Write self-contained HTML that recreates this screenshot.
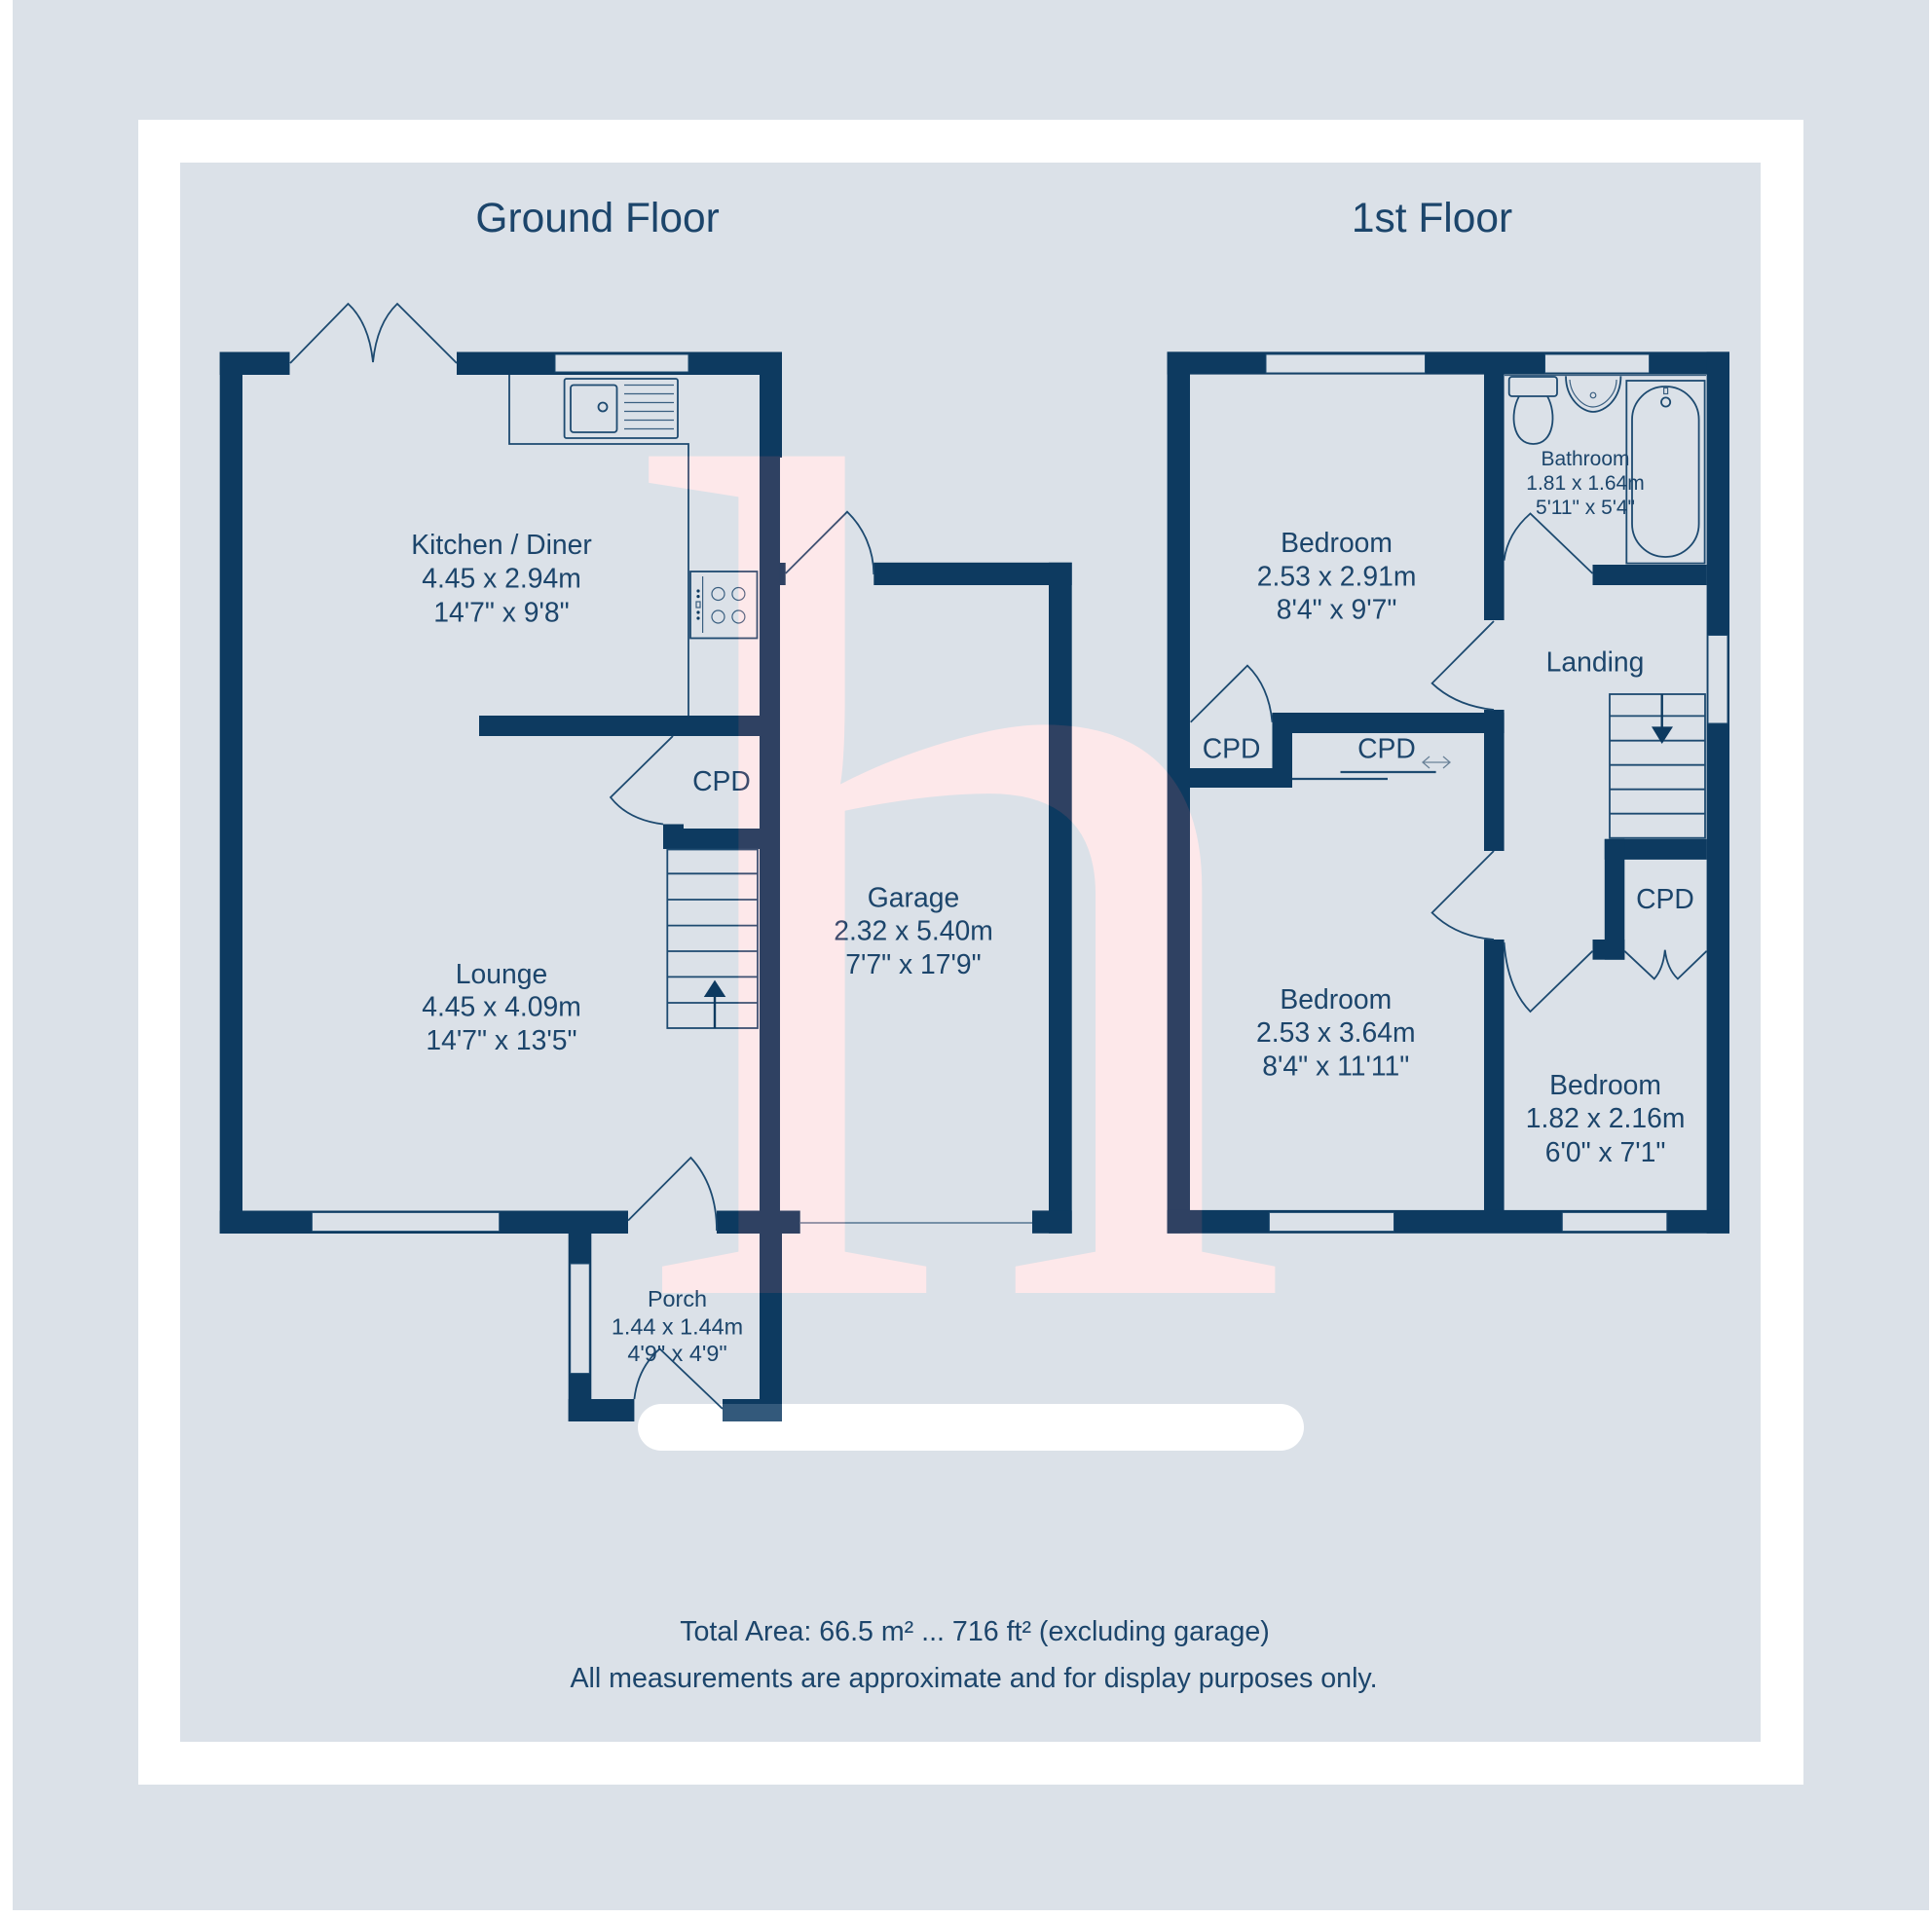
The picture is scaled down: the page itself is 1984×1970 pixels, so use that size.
<!DOCTYPE html>
<html><head><meta charset="utf-8">
<style>
html,body{margin:0;padding:0;background:#fff;width:1984px;height:1970px;overflow:hidden}
svg{display:block}
text{font-family:"Liberation Sans",sans-serif;fill:#1c456b;text-anchor:middle}
.l{fill:none;stroke:#1d4a70;stroke-width:1.8}
.t{fill:none;stroke:#3a5f80;stroke-width:1.2}
.w{fill:#0d3a60}
.g{fill:#dbe1e8;stroke:#1d4a70;stroke-width:1}
</style></head><body>
<svg width="1984" height="1970" viewBox="0 0 1984 1970" xmlns="http://www.w3.org/2000/svg">
<rect x="13" y="0" width="1968" height="1962" fill="#dbe1e8"/>
<rect x="142" y="123" width="1710" height="1710" fill="#fff"/>
<rect x="185" y="167" width="1623" height="1622" fill="#dbe1e8"/>

<!-- pill -->
<rect x="655" y="1442" width="684" height="48" rx="24" fill="#fff"/>

<!-- GROUND FLOOR walls -->
<rect class="w" x="225.7" y="361.5" width="23.3" height="905.5"/>
<rect class="w" x="225.7" y="361.5" width="71.8" height="23.5"/>
<rect class="w" x="469" y="361.5" width="334" height="23.5"/>
<rect class="g" x="570" y="364" width="137" height="18"/>
<rect class="w" x="780" y="361.5" width="23" height="108.5"/>
<rect class="w" x="780" y="470" width="21" height="775"/>
<rect class="w" x="780" y="1245" width="23" height="197"/>
<rect class="w" x="492" y="735" width="288" height="21"/>
<rect class="w" x="681" y="851" width="99" height="21"/>
<rect class="w" x="681" y="846.5" width="21" height="25"/>
<rect class="w" x="225.7" y="1243.5" width="419.3" height="23.5"/>
<rect class="g" x="320.4" y="1245.4" width="192.3" height="19.2"/>
<rect class="w" x="736" y="1243.5" width="85.7" height="23.5"/>
<rect class="w" x="583.7" y="1267" width="23.6" height="193"/>
<rect class="g" x="585.7" y="1298" width="19.6" height="112.6"/>
<rect class="w" x="583.7" y="1437" width="67.7" height="23"/>
<rect class="w" x="742" y="1437" width="61" height="5"/>
<rect x="742" y="1442" width="61" height="18" fill="#33597b"/>
<rect x="780" y="1437" width="23" height="5" class="w"/>

<!-- Garage walls -->
<rect class="w" x="800.7" y="578" width="6" height="23"/>
<rect class="w" x="897.3" y="577.8" width="203.4" height="23.2"/>
<rect class="w" x="1077" y="577.8" width="23.7" height="689"/>
<rect class="w" x="1060" y="1243.4" width="40.7" height="23.4"/>
<path class="t" d="M822 1256H1060"/>
<path class="l" d="M806.7 589L870 525.7A90 90 0 0 1 897.3 590"/>

<!-- French doors -->
<path class="l" d="M298 373L357.5 312Q379 332 383 372Q387 332 408 312L469 373"/>
<!-- Kitchen -->
<path class="l" d="M523 385V456H707V735"/>
<rect class="l" x="579.6" y="389" width="116.4" height="61" rx="2"/>
<rect class="l" x="586" y="395.5" width="47.5" height="48.5" rx="3"/>
<circle class="l" cx="619" cy="418" r="4.5"/>
<path class="t" d="M641 395.5H692M641 404.5H692M641 413.5H692M641 422.5H692M641 431.5H692M641 440.5H692"/>
<rect class="l" x="709" y="587" width="68.5" height="68.5"/>
<path class="t" d="M721.6 592V650"/>
<circle class="t" cx="737.5" cy="610" r="6.5"/><circle class="t" cx="758.4" cy="610" r="6.5"/>
<circle class="t" cx="737.5" cy="633.5" r="6.5"/><circle class="t" cx="758.4" cy="633.5" r="6.5"/>
<g fill="#0d3a60"><circle cx="717" cy="607" r="1.6"/><circle cx="717" cy="612.6" r="1.6"/><circle cx="717" cy="629" r="1.6"/><circle cx="717" cy="635" r="1.6"/></g>
<rect class="t" x="715" y="618" width="4" height="6"/>
<!-- CPD door -->
<path class="l" d="M691 756L627 819Q645 842 681 846.5"/>
<!-- stairs -->
<rect class="l" x="685.3" y="872.5" width="92.7" height="183.5"/>
<path class="l" d="M685.3 897.3H778M685.3 924H778M685.3 950.6H778M685.3 977H778M685.3 1003.4H778M685.3 1030H778"/>
<path d="M734 1056V1024" stroke="#0d3a60" stroke-width="2.4" fill="none"/>
<path class="w" d="M734 1006.6L745.3 1024H722.8Z"/>
<!-- lounge door -->
<path class="l" d="M645 1253.6L709.4 1189Q736 1218 736 1264"/>
<!-- porch door -->
<path class="l" d="M651.4 1437Q655 1405 677.5 1385.4L742 1447"/>

<!-- FIRST FLOOR walls -->
<rect class="w" x="1198.6" y="361.4" width="577.4" height="23.2"/>
<rect class="g" x="1300" y="364" width="163.5" height="19"/>
<rect class="g" x="1586.5" y="364" width="107.1" height="19"/>
<rect class="w" x="1198.6" y="361.4" width="23.4" height="905.4"/>
<rect class="w" x="1752.6" y="361.4" width="23.4" height="905.4"/>
<rect class="g" x="1754" y="652.5" width="20" height="90.5"/>
<rect class="w" x="1524" y="384" width="20.6" height="253"/>
<rect class="w" x="1524" y="729" width="20.6" height="145"/>
<rect class="w" x="1306.5" y="732" width="238.1" height="21"/>
<rect class="w" x="1306.5" y="732" width="20.5" height="77"/>
<rect class="w" x="1222" y="789" width="105" height="20"/>
<rect class="w" x="1635.5" y="580" width="117.1" height="21"/>
<rect class="w" x="1647.8" y="861.8" width="104.8" height="21.1"/>
<rect class="w" x="1647.8" y="861.8" width="20.5" height="123.9"/>
<rect class="w" x="1635.5" y="965" width="32.8" height="20.7"/>
<rect class="w" x="1524" y="965" width="20.6" height="300"/>
<rect class="w" x="1198.6" y="1242.9" width="577.4" height="23.9"/>
<rect class="g" x="1303.4" y="1245.4" width="128.1" height="19.2"/>
<rect class="g" x="1604.3" y="1245.4" width="107.5" height="19.2"/>

<!-- first floor doors -->
<path class="l" d="M1222.7 741.8L1281 683.6Q1303 705 1306.5 741.8"/>
<path class="l" d="M1534 638L1470.6 701.8Q1495 725 1534 729"/>
<path class="l" d="M1544.6 575.7Q1548 548 1571.5 527.5L1635.5 589"/>
<path class="l" d="M1635.5 976.8L1571.5 1039Q1548 1015 1544.6 968"/>
<path class="l" d="M1534 874L1470.6 937.5Q1495 962 1534 965"/>
<path class="l" d="M1668.3 976.8L1698.8 1005.4Q1708 995 1709.8 975.7Q1712 995 1722.9 1005.4L1752.6 976.8"/>
<!-- sliding cpd -->
<path d="M1327 800H1425" stroke="#1d4a70" stroke-width="2.2" fill="none"/>
<path d="M1376.5 793H1474.6" stroke="#1d4a70" stroke-width="2.2" fill="none"/>
<path d="M1461 783H1489M1468 777L1461 783L1468 789M1482 777L1489 783L1482 789" stroke="#6a8298" stroke-width="1.3" fill="none"/>
<!-- stairs first -->
<rect class="l" x="1653" y="713" width="98" height="147.7"/>
<path class="l" d="M1653 735.4H1751M1653 760.7H1751M1653 785.7H1751M1653 810.7H1751M1653 835.7H1751"/>
<path d="M1706.7 713V748" stroke="#0d3a60" stroke-width="2.4" fill="none"/>
<path class="w" d="M1696 746.4H1718L1706.7 764Z"/>
<!-- bathroom fittings -->
<path class="t" d="M1545 385.5H1752"/>
<rect class="l" x="1549.7" y="387" width="49.3" height="20" rx="3"/>
<path class="l" d="M1560 407C1550 425 1553 456 1574.6 456C1596 456 1599 425 1589 407"/>
<path class="l" d="M1608 386.4C1608 410 1625 423 1636 423C1648 423 1664.4 410 1664.4 386.4"/>
<path class="t" d="M1612 390C1613 406 1626 418 1636 418C1646 418 1660 406 1660 390"/>
<circle class="t" cx="1636" cy="406" r="2.8"/>
<rect class="l" x="1670.3" y="391" width="80.3" height="187.6"/>
<rect class="l" x="1676" y="397" width="68.6" height="175" rx="34"/>
<circle class="l" cx="1710.6" cy="413" r="4.6"/>
<rect class="t" x="1708.6" y="398.5" width="4" height="6"/>

<!-- LABELS -->
<text x="613.6" y="238" font-size="42.5">Ground Floor</text>
<text x="1470.5" y="238" font-size="42.5">1st Floor</text>

<g font-size="28.3">
<text x="515" y="569">Kitchen / Diner</text><text x="515" y="603.7">4.45 x 2.94m</text><text x="515" y="638.4">14'7" x 9'8"</text>
<text x="515" y="1010">Lounge</text><text x="515" y="1043.5">4.45 x 4.09m</text><text x="515" y="1078">14'7" x 13'5"</text>
<text x="938" y="931.5">Garage</text><text x="938" y="965.5">2.32 x 5.40m</text><text x="938" y="1000">7'7" x 17'9"</text>
<text x="1372.6" y="567">Bedroom</text><text x="1372.6" y="601.5">2.53 x 2.91m</text><text x="1372.6" y="635.5">8'4" x 9'7"</text>
<text x="1371.8" y="1036">Bedroom</text><text x="1371.8" y="1070">2.53 x 3.64m</text><text x="1371.8" y="1104.6">8'4" x 11'11"</text>
<text x="1648.6" y="1124">Bedroom</text><text x="1648.6" y="1158">1.82 x 2.16m</text><text x="1648.6" y="1192.8">6'0" x 7'1"</text>
<text x="1638" y="689.3">Landing</text>
<text x="741" y="812">CPD</text>
<text x="1264.6" y="778.6">CPD</text>
<text x="1424" y="778.6">CPD</text>
<text x="1710" y="933">CPD</text>
</g>
<g font-size="23.4">
<text x="695.5" y="1342">Porch</text><text x="695.5" y="1370.7">1.44 x 1.44m</text><text x="695.5" y="1398">4'9" x 4'9"</text>
</g>
<g font-size="21">
<text x="1628" y="478">Bathroom</text><text x="1628" y="503">1.81 x 1.64m</text><text x="1628" y="528">5'11" x 5'4"</text>
</g>
<g font-size="28.6">
<text x="1001" y="1685">Total Area: 66.5 m² ... 716 ft² (excluding garage)</text>
<text x="1000" y="1733">All measurements are approximate and for display purposes only.</text>
</g>

<!-- watermark -->
<text x="-6" y="0" transform="translate(996.5 1328) scale(1.07 .983)" font-size="1260" style="font-family:'Liberation Serif',serif;fill:#220702;mix-blend-mode:plus-lighter">h</text>
</svg>
</body></html>
